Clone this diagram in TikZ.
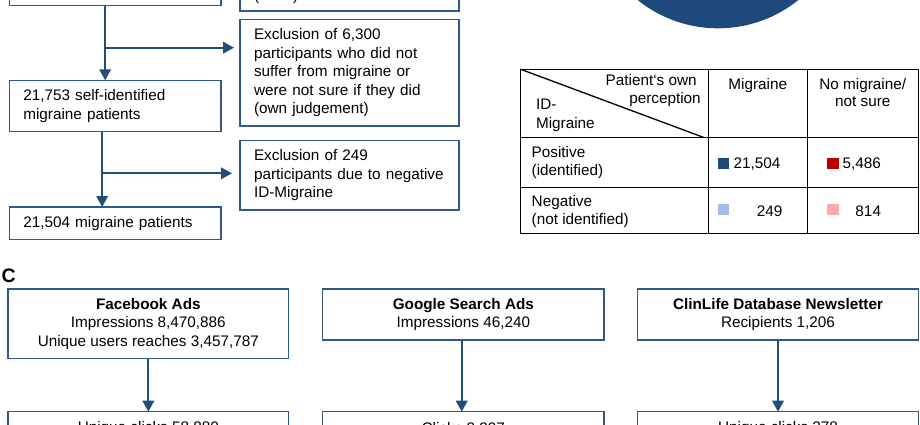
\documentclass[tikz,border=0pt]{standalone}
\usepackage{fontspec}
\setmainfont{Liberation Sans}
\usetikzlibrary{arrows.meta,calc}
\definecolor{boxblue}{HTML}{2E5A87}
\definecolor{arrblue}{HTML}{1F4E79}
\definecolor{pieblue}{HTML}{1F497D}
\definecolor{darkred}{HTML}{C00000}
\definecolor{lightblue}{HTML}{A4BDEB}
\definecolor{lightred}{HTML}{FFAAAA}
\begin{document}
\begin{tikzpicture}[x=1pt,y=-1pt,
  box/.style={draw=boxblue,line width=1.3pt,fill=white,inner sep=0pt,outer sep=0pt,anchor=north west,font=\fontsize{15.3}{18.5}\selectfont},
  lbox/.style={box,align=left,inner xsep=14pt},
  cbox/.style={box,align=center},
  arr/.style={draw=arrblue,fill=arrblue,line width=2pt,-{Triangle[length=11pt,width=11.5pt]}},
  lab/.style={inner sep=0pt,outer sep=0pt,font=\fontsize{15.3}{18.5}\selectfont},
  grid/.style={draw=black,line width=1.5pt},
  sq/.style={inner sep=0pt,outer sep=0pt,minimum width=11.5pt,minimum height=11pt,anchor=north west}
]
\useasboundingbox (0,0) rectangle (920,425);
\clip (0,0) rectangle (920,425);

% pie (only its lower part is visible)
\fill[pieblue] (718,-100) circle[radius=128.3pt];

% ---------------- flow chart (top left) ----------------
\node[box,minimum width=211.7pt,minimum height=55.7pt] (top0) at (9.3,-50) {};
\node[box,minimum width=219pt,minimum height=61pt] (topR) at (240,-50) {};
\node[lab,anchor=base west] (topRt) at (254,0.5) {(\phantom{0000})};

\node[lbox,text width=191pt,minimum height=106.7pt] (ex1) at (240,19.3)
  {Exclusion of 6,300\\participants who did not\\suffer from migraine or\\were not sure if they did\\(own judgement)};
\node[lbox,text width=183.7pt,minimum height=51.4pt] (p1) at (9.3,80.3)
  {21,753 self-identified\\migraine patients};
\node[lbox,text width=191pt,minimum height=69.3pt] (ex2) at (240,140.7)
  {Exclusion of 249\\participants due to negative\\ID-Migraine};
\node[lbox,text width=183.7pt,minimum height=32.3pt] (p2) at (9.3,207)
  {21,504 migraine patients};

\draw[arr] ([xshift=-10pt]top0.south) -- ([xshift=-10pt]p1.north);
\coordinate (b1) at (105,47.7);
\draw[arr,shorten >=6pt] (b1) -- (b1 -| ex1.west);
\draw[arr] ([xshift=-13pt]p1.south) -- ([xshift=-13pt]p2.north);
\coordinate (b2) at (102,173.3);
\draw[arr,shorten >=8pt] (b2) -- (b2 -| ex2.west);

% ---------------- table (top right) ----------------
\draw[grid] (520.7,69.3) rectangle (918.3,233.3);
\draw[grid] (708.3,69.3) -- (708.3,233.3);
\draw[grid] (807.3,69.3) -- (807.3,233.3);
\draw[grid] (520.7,137.3) -- (918.3,137.3);
\draw[grid] (520.7,187.3) -- (918.3,187.3);
\draw[black,line width=1.3pt] (520.7,69.3) -- (703.3,137.3);

\node[lab,anchor=base east] (h1) at (696.7,86) {Patient‘s own};
\node[lab,anchor=base east] (h2) at (700.7,103.3) {perception};
\node[lab,anchor=base west] (h3) at (536,110) {ID-};
\node[lab,anchor=base west] (h4) at (536,128.3) {Migraine};
\node[lab,anchor=base] (h5) at (757.8,89.3) {Migraine};
\node[lab,anchor=base] (h6) at (862.8,89.3) {No migraine/};
\node[lab,anchor=base] (h7) at (862.8,106.7) {not sure};

\node[lab,anchor=base west] (r1a) at (531.7,157.3) {Positive};
\node[lab,anchor=base west] (r1b) at (531.7,175) {(identified)};
\node[lab,anchor=base west] (r2a) at (531.7,206.7) {Negative};
\node[lab,anchor=base west] (r2b) at (531.7,224.3) {(not identified)};

\node[sq,fill=pieblue] (s1) at (717.5,157.5) {};
\node[sq,fill=darkred] (s2) at (827,157.5) {};
\node[sq,fill=lightblue] (s3) at (717.5,204.3) {};
\node[sq,fill=lightred] (s4) at (827,204.3) {};
\node[lab,anchor=base east] (v1) at (780.5,168.3) {21,504};
\node[lab,anchor=base east] (v2) at (881,168.3) {5,486};
\node[lab,anchor=base east] (v3) at (782.3,216.7) {249};
\node[lab,anchor=base east] (v4) at (881,216.7) {814};

% ---------------- panel C ----------------
\node[inner sep=0pt,anchor=west,font=\fontsize{19.5}{20}\selectfont\bfseries] (lc) at (1.5,275.3) {C};

\node[cbox,minimum width=280.7pt,minimum height=69.7pt] (fb) at (8,289)
  {\textbf{Facebook Ads}\\Impressions 8,470,886\\Unique users reaches 3,457,787};
\node[cbox,minimum width=281.3pt,minimum height=51pt] (gg) at (322.7,289)
  {\textbf{Google Search Ads}\\Impressions 46,240};
\node[cbox,minimum width=280.6pt,minimum height=51pt] (cl) at (637.7,289)
  {\textbf{ClinLife Database Newsletter}\\Recipients 1,206};

\node[cbox,minimum width=280.7pt,minimum height=34pt] (fb2) at (8,411.7) {Unique clicks 58,880};
\node[cbox,minimum width=281.3pt,minimum height=34pt] (gg2) at (322.7,411.7) {Clicks 2,397};
\node[cbox,minimum width=280.6pt,minimum height=34pt] (cl2) at (637.7,411.7) {Unique clicks 278};

\draw[arr] (fb.south) -- (fb2.north);
\draw[arr] ([xshift=-1.6pt]gg.south) -- ([xshift=-1.6pt]gg2.north);
\draw[arr] (cl.south) -- (cl2.north);
\end{tikzpicture}
\end{document}
